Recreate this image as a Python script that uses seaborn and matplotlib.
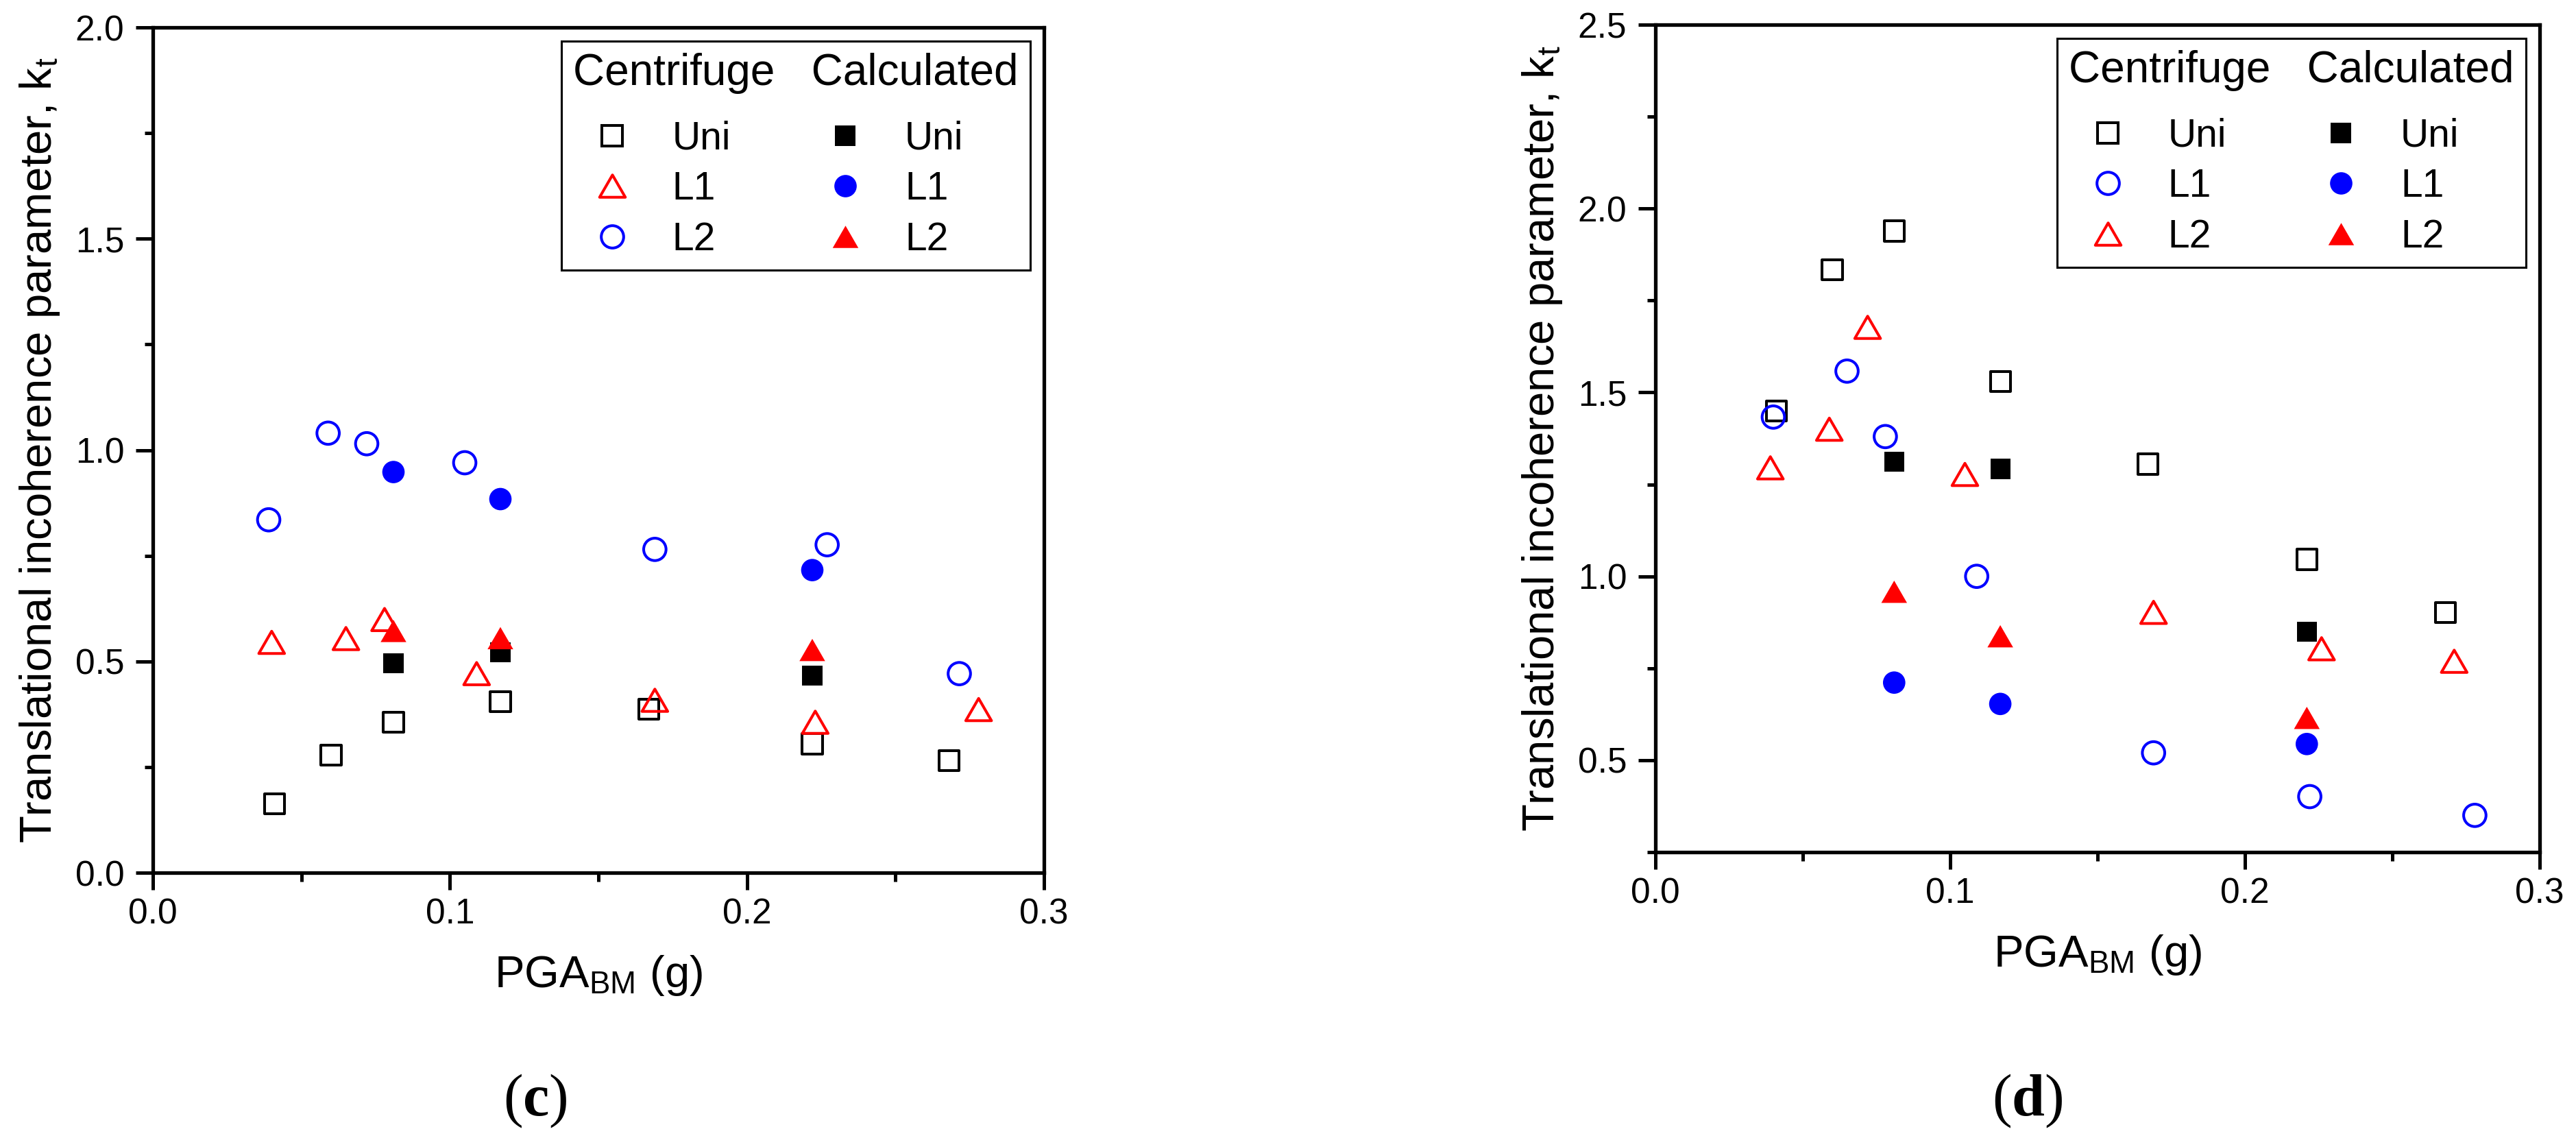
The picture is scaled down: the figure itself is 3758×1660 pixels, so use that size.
import matplotlib
matplotlib.use('Agg')
import matplotlib.pyplot as plt
from matplotlib.lines import Line2D
from matplotlib.path import Path
from matplotlib.ticker import MultipleLocator, FormatStrFormatter
import seaborn as sns

# ---- (c) centrifuge ----
c_uni_x = [0.041, 0.060, 0.081, 0.117, 0.167, 0.222, 0.268]
c_uni_y = [0.163, 0.278, 0.356, 0.405, 0.387, 0.305, 0.265]
c_l1_x = [0.040, 0.065, 0.078, 0.109, 0.169, 0.223, 0.278]
c_l1_y = [0.545, 0.554, 0.599, 0.471, 0.408, 0.356, 0.386]
c_l2_x = [0.039, 0.059, 0.072, 0.105, 0.169, 0.227, 0.2715]
c_l2_y = [0.835, 1.040, 1.015, 0.970, 0.765, 0.776, 0.471]
# ---- (c) calculated ----
c_calc_x = [0.081, 0.117, 0.222]
c_calc_uni = [0.495, 0.522, 0.467]
c_calc_l1 = [0.948, 0.884, 0.716]
c_calc_l2 = [0.572, 0.555, 0.527]

# ---- (d) centrifuge ----
d_uni_x = [0.041, 0.060, 0.081, 0.117, 0.167, 0.221, 0.268]
d_uni_y = [1.450, 1.833, 1.939, 1.529, 1.305, 1.046, 0.901]
d_l1_x = [0.040, 0.065, 0.078, 0.109, 0.169, 0.222, 0.278]
d_l1_y = [1.433, 1.558, 1.380, 1.000, 0.520, 0.401, 0.350]
d_l2_x = [0.039, 0.059, 0.072, 0.105, 0.169, 0.226, 0.271]
d_l2_y = [1.295, 1.400, 1.677, 1.277, 0.902, 0.803, 0.769]
# ---- (d) calculated ----
d_calc_x = [0.081, 0.117, 0.221]
d_calc_uni = [1.312, 1.292, 0.850]
d_calc_l1 = [0.711, 0.653, 0.544]
d_calc_l2 = [0.958, 0.837, 0.615]

sns.set_style('ticks', {'axes.edgecolor': 'black', 'text.color': 'black', 'axes.labelcolor': 'black',
                        'xtick.color': 'black', 'ytick.color': 'black'})
plt.rcParams['font.family'] = ['Liberation Sans', 'DejaVu Sans']
plt.rcParams['mathtext.fontset'] = 'custom'
plt.rcParams['mathtext.rm'] = 'Liberation Serif'
plt.rcParams['mathtext.it'] = 'Liberation Serif:italic'
plt.rcParams['mathtext.bf'] = 'Liberation Serif:bold'
plt.rcParams['mathtext.sf'] = 'Liberation Sans'

# equilateral triangle, closed so the outline is complete
TRI = Path([(0, 0.433), (-0.5, -0.433), (0.5, -0.433), (0, 0.433)], closed=True)
LW = 2.9

# marker styles: (marker, size in pt, face, edge)
styles = {
    'sq_open': ('s', 21, 'none', 'black'),
    'sq_fill': ('s', 21, 'black', 'none'),
    'ci_open': ('o', 23.5, 'none', 'blue'),
    'ci_fill': ('o', 23.5, 'blue', 'none'),
    'tr_open': (TRI, 27, 'none', 'red'),
    'tr_fill': (TRI, 27, 'red', 'none'),
}


def draw(ax, x, y, key):
    m, ms, fc, ec = styles[key]
    sns.scatterplot(x=x, y=y, ax=ax, marker=m, s=ms ** 2, color=ec if fc == 'none' else fc,
                    facecolor=fc, edgecolor=ec, linewidth=LW if fc == 'none' else 0, zorder=3)


def handle(key):
    m, ms, fc, ec = styles[key]
    return Line2D([], [], ls='none', marker=m, ms=ms, mfc=fc, mec=ec if fc == 'none' else fc,
                  mew=LW if fc == 'none' else 0)


def style_axes(ax, ylim, ymaj):
    ax.set_xlim(0, 0.3)
    ax.set_ylim(*ylim)
    ax.xaxis.set_major_locator(MultipleLocator(0.1))
    ax.xaxis.set_minor_locator(MultipleLocator(0.05))
    ax.yaxis.set_major_locator(MultipleLocator(ymaj))
    ax.yaxis.set_minor_locator(MultipleLocator(ymaj / 2))
    ax.xaxis.set_major_formatter(FormatStrFormatter('%.1f'))
    ax.yaxis.set_major_formatter(FormatStrFormatter('%.1f'))
    for sp in ax.spines.values():
        sp.set_linewidth(3.8)
        sp.set_color('black')
    ax.tick_params(which='major', length=18, width=3.6, direction='out', labelsize=37)
    ax.tick_params(which='minor', length=9, width=3.6, direction='out')
    ax.tick_params(axis='x', which='major', pad=8)
    ax.tick_params(axis='y', which='major', pad=12)
    ax.set_xlabel(r'PGA$_{\mathsf{BM}}$ (g)', fontsize=47, labelpad=24)
    ax.set_ylabel(r'Translational incoherence parameter, k$_{\mathsf{t}}$', fontsize=47, labelpad=14)


def add_legend(ax, keys):
    leg = ax.legend([handle(k) for k in keys], ['Uni', 'L1', 'L2', 'Uni', 'L1', 'L2'], ncol=2,
                    loc='upper right', title='Centrifuge   Calculated', title_fontsize=46, fontsize=41,
                    alignment='left', frameon=True, fancybox=False, edgecolor='black', framealpha=1,
                    borderaxespad=0.35, handlelength=2.0, handletextpad=0.53, columnspacing=1.93,
                    labelspacing=0.34, borderpad=0.3)
    leg.get_frame().set_linewidth(2.2)
    leg._legend_box.sep = 28  # gap between header line and the entries
    return leg


fig = plt.figure(figsize=(37.58, 16.6), dpi=100)
ax_c = fig.add_axes([0.05934, 0.23313, 0.34593, 0.74277])
ax_d = fig.add_axes([0.64263, 0.25120, 0.34327, 0.72711])

# (c)
draw(ax_c, c_uni_x, c_uni_y, 'sq_open')
draw(ax_c, c_l1_x, c_l1_y, 'tr_open')
draw(ax_c, c_l2_x, c_l2_y, 'ci_open')
draw(ax_c, c_calc_x, c_calc_uni, 'sq_fill')
draw(ax_c, c_calc_x, c_calc_l1, 'ci_fill')
draw(ax_c, c_calc_x, c_calc_l2, 'tr_fill')
style_axes(ax_c, (0, 2.0), 0.5)
add_legend(ax_c, ['sq_open', 'tr_open', 'ci_open', 'sq_fill', 'ci_fill', 'tr_fill'])

# (d)
draw(ax_d, d_uni_x, d_uni_y, 'sq_open')
draw(ax_d, d_l1_x, d_l1_y, 'ci_open')
draw(ax_d, d_l2_x, d_l2_y, 'tr_open')
draw(ax_d, d_calc_x, d_calc_uni, 'sq_fill')
draw(ax_d, d_calc_x, d_calc_l1, 'ci_fill')
draw(ax_d, d_calc_x, d_calc_l2, 'tr_fill')
style_axes(ax_d, (0.25, 2.5), 0.5)
add_legend(ax_d, ['sq_open', 'ci_open', 'tr_open', 'sq_fill', 'ci_fill', 'tr_fill'])

fig.text(0.2078, 0.032, r'$(\mathbf{c})$', ha='center', va='center', fontsize=62)
fig.text(0.7871, 0.032, r'$(\mathbf{d})$', ha='center', va='center', fontsize=62)

fig.savefig('out.png', dpi=100)
